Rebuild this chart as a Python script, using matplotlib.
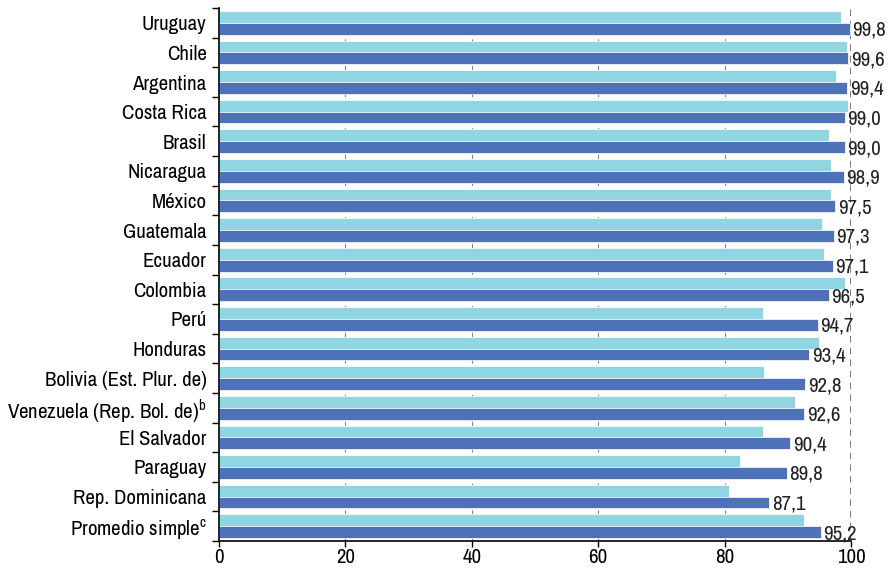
import matplotlib.pyplot as plt
import numpy as np
from matplotlib import font_manager

# pick a condensed font if one is installed, otherwise a smaller regular one
names = sorted({f.name for f in font_manager.fontManager.ttflist})
narrow = [nm for nm in names if 'Narrow' in nm or 'Condensed' in nm]
if narrow:
    font = narrow[0]
    fsize = 15
else:
    font = 'Liberation Sans'
    fsize = 12.5
plt.rcParams['font.family'] = [font, 'DejaVu Sans']

countries = ['Uruguay', 'Chile', 'Argentina', 'Costa Rica', 'Brasil', 'Nicaragua',
             'México', 'Guatemala', 'Ecuador', 'Colombia', 'Perú', 'Honduras',
             'Bolivia (Est. Plur. de)', 'Venezuela (Rep. Bol. de)$^{\\mathregular{b}}$',
             'El Salvador', 'Paraguay', 'Rep. Dominicana',
             'Promedio simple$^{\\mathregular{c}}$']
light_vals = [98.4, 99.3, 97.7, 99.6, 96.5, 96.8, 96.8, 95.4, 95.7, 99.1,
              86.0, 94.9, 86.3, 91.2, 86.0, 82.5, 80.7, 92.5]
dark_vals = [99.8, 99.6, 99.4, 99.0, 99.0, 98.9, 97.5, 97.3, 97.1, 96.5,
             94.7, 93.4, 92.8, 92.6, 90.4, 89.8, 87.1, 95.2]

light_color = '#8fd5e2'
dark_color = '#4d72b8'

fig = plt.figure(figsize=(8.9, 5.69), dpi=100)
ax = fig.add_axes([219 / 890, 28 / 569, 632 / 890, 533 / 569])

n = len(countries)
y = np.arange(n)
h = 0.4
ax.barh(y - h / 2, light_vals, height=h, color=light_color, edgecolor='white', linewidth=0.5, zorder=2)
ax.barh(y + h / 2, dark_vals, height=h, color=dark_color, edgecolor='white', linewidth=0.5, zorder=2)

for yi, v in zip(y, dark_vals):
    ax.text(v + 0.4, yi + h / 2 + 0.05, f'{v:.1f}'.replace('.', ','), va='center', ha='left',
            fontsize=fsize, color='#222222', zorder=3)

for gx in [20, 40, 60, 80]:
    ax.axvline(gx, color='#888888', linestyle=(0, (4, 4)), linewidth=0.8, zorder=1)
ax.axvline(100, color='#666666', linestyle=(0, (4, 3)), linewidth=1.2, zorder=1)

ax.set_xlim(0, 100)
ax.set_ylim(n - 0.5, -0.5)
ax.set_xticks([0, 20, 40, 60, 80, 100])
ax.tick_params(axis='x', labelsize=fsize, direction='out', length=4, width=1, pad=1)
ax.set_yticks(y)
ax.set_yticklabels(countries)
ax.tick_params(axis='y', which='major', length=0, labelsize=fsize, pad=9)
ax.set_yticks(np.arange(n + 1) - 0.5, minor=True)
ax.tick_params(axis='y', which='minor', length=5, width=1, direction='out')

for s in ['top', 'right']:
    ax.spines[s].set_visible(False)
ax.spines['left'].set_linewidth(1.2)
ax.spines['bottom'].set_linewidth(1.2)

fig.savefig('out.png', dpi=100)
